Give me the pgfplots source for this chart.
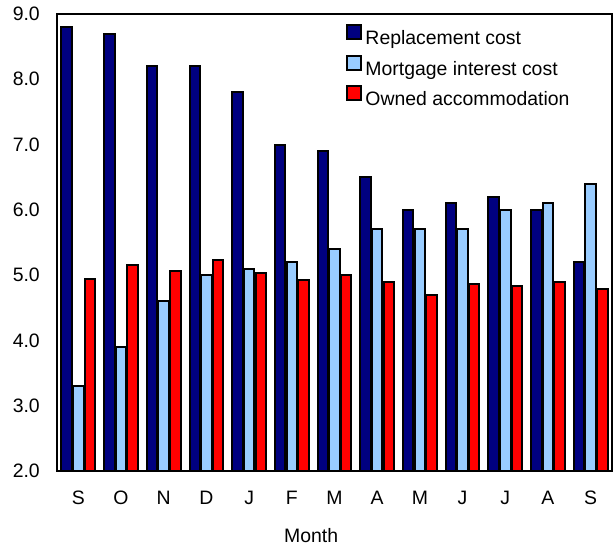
\documentclass[border=0pt]{standalone}
\usepackage{pgfplots}
\pgfplotsset{compat=1.18}
\usepackage{fontspec}
\setmainfont{Liberation Sans}
\definecolor{navyc}{RGB}{0,0,128}
\definecolor{lightc}{RGB}{153,204,255}
\definecolor{redc}{RGB}{255,0,0}
\begin{document}
\begin{tikzpicture}[x=1bp,y=1bp]
\useasboundingbox (-57bp,-75bp) rectangle (559bp,471bp);
\begin{axis}[
  at={(0,0)}, anchor=south west,
  scale only axis,
  width=555bp, height=457bp,
  ybar=1.2pt,
  bar width=0.245,
  xmin=-0.5, xmax=12.5,
  ymin=2, ymax=9,
  ytick={2,3,4,5,6,7,8,9},
  xtick={0,...,12},
  xticklabels={S,O,N,D,J,F,M,A,M,J,J,A,S},
  major tick length=0pt,
  axis line style={line width=1.8pt},
  /pgf/number format/fixed,
  /pgf/number format/fixed zerofill,
  /pgf/number format/precision=1,
  /pgf/number format/assume math mode=true,
  ticklabel style={font=\fontsize{19.5}{22}\selectfont, inner sep=0pt},
  xticklabel style={anchor=base, yshift=-33bp},
  yticklabel style={anchor=east, xshift=-17bp},
  xlabel={Month},
  xlabel style={font=\fontsize{19.5}{22}\selectfont, inner sep=0pt,
    at={(axis description cs:0.458,0)}, anchor=base, yshift=-71bp},
  legend style={at={(axis description cs:0.5207,0.978)}, anchor=north west, draw=none, fill=none,
    inner sep=0pt, outer sep=0pt,
    font=\fontsize{19.5}{22}\selectfont, row sep=5bp,
    nodes={inner sep=0pt, text height=15bp, text depth=5bp},
    /tikz/every odd column/.append style={column sep=3bp}},
  legend cell align=left,
  legend image code/.code={\draw[#1, line width=2pt] (1bp,0.5bp) rectangle (15.5bp,14.5bp);},
]
\addplot[fill=navyc, draw=black, line width=2pt] coordinates {(0,8.8) (1,8.7) (2,8.2) (3,8.2) (4,7.8) (5,7.0) (6,6.9) (7,6.5) (8,6.0) (9,6.1) (10,6.2) (11,6.0) (12,5.2)};
\addplot[fill=lightc, draw=black, line width=2pt] coordinates {(0,3.3) (1,3.9) (2,4.6) (3,5.0) (4,5.1) (5,5.2) (6,5.4) (7,5.7) (8,5.7) (9,5.7) (10,6.0) (11,6.1) (12,6.4)};
\addplot[fill=redc, draw=black, line width=2pt] coordinates {(0,4.94) (1,5.16) (2,5.07) (3,5.23) (4,5.04) (5,4.93) (6,5.0) (7,4.89) (8,4.70) (9,4.86) (10,4.83) (11,4.89) (12,4.79)};
\legend{Replacement cost, Mortgage interest cost, Owned accommodation}
\end{axis}
\end{tikzpicture}
\end{document}
